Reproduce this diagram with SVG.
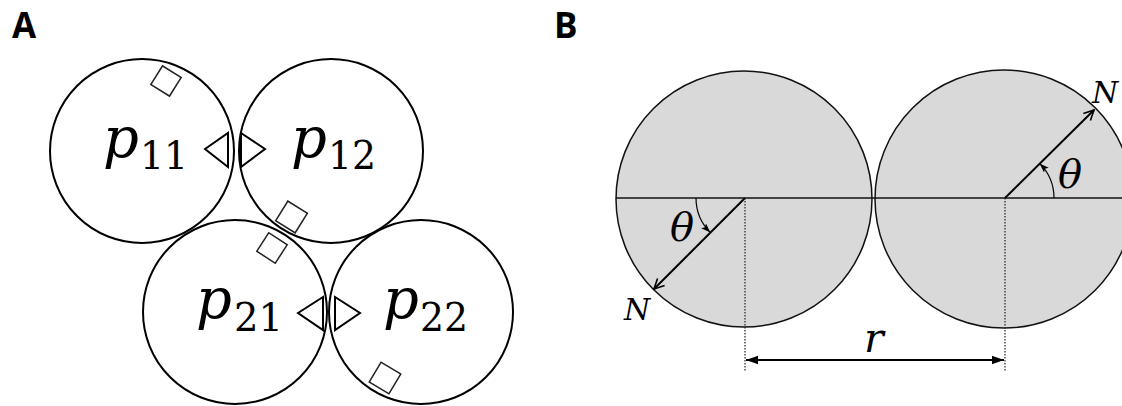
<svg xmlns="http://www.w3.org/2000/svg" width="1122" height="406" viewBox="0 0 1122 406">
<style>
.lbl{font-family:"Open Sans","Liberation Sans",sans-serif;font-weight:700;font-size:35px;fill:#000}
.pc{fill:#fff;stroke:#000;stroke-width:2}
.sq{fill:none;stroke:#222;stroke-width:1.5}
.tri{fill:none;stroke:#000;stroke-width:2;stroke-linejoin:miter}
.mp{font-family:"DejaVu Serif","Liberation Serif",serif;font-style:italic;font-size:56px;fill:#000}
.ms{font-family:"DejaVu Serif","Liberation Serif",serif;font-size:40px;fill:#000}
.gc{fill:#d9d9d9;stroke:#111;stroke-width:1.5}
.mi{font-family:"DejaVu Serif","Liberation Serif",serif;font-style:italic;fill:#000}
.ax{stroke:#111;stroke-width:1.3;fill:none}
.dot{stroke:#222;stroke-width:1.2;stroke-dasharray:1.5 1.5;fill:none}
.vec{stroke:#000;stroke-width:2;fill:none}
.arc{stroke:#000;stroke-width:1.2;fill:none}
</style>
<defs>
<marker id="ah" viewBox="0 0 12 12" refX="11" refY="6" markerWidth="6" markerHeight="6" markerUnits="strokeWidth" orient="auto">
<path d="M1,1 L11,6 L1,11" fill="none" stroke="#000" stroke-width="1.6"/>
</marker>
<marker id="ahs" viewBox="0 0 10 10" refX="10" refY="5" markerWidth="8" markerHeight="8" markerUnits="strokeWidth" orient="auto">
<path d="M0,1.5 L10,5 L0,8.5 L2,5 Z" fill="#000"/>
</marker>
<marker id="ahr" viewBox="0 0 10 10" refX="10" refY="5" markerWidth="6" markerHeight="6" markerUnits="strokeWidth" orient="auto-start-reverse">
<path d="M0,1.5 L10,5 L0,8.5 Z" fill="#000"/>
</marker>
</defs>

<text class="lbl" x="12" y="38">A</text>
<text class="lbl" x="554" y="38">B</text>

<g id="p11">
<circle class="pc" cx="142" cy="151" r="92"/>
<text class="mp" x="103" y="157">p</text>
<text class="ms" x="140" y="169" textLength="48" lengthAdjust="spacingAndGlyphs">11</text>
<rect class="sq" x="-11" y="-11" width="22" height="22" transform="translate(166,81) rotate(32)"/>
<polygon class="tri" points="205,149 228,133 228,167"/>
</g>
<g id="p12">
<circle class="pc" cx="331" cy="151" r="92"/>
<text class="mp" x="291" y="157">p</text>
<text class="ms" x="328" y="169" textLength="48" lengthAdjust="spacingAndGlyphs">12</text>
<rect class="sq" x="-11.5" y="-11.5" width="23" height="23" transform="translate(291.5,217) rotate(32)"/>
<polygon class="tri" points="241,133 241,167 265,149"/>
</g>
<g id="p21">
<circle class="pc" cx="235" cy="312" r="92"/>
<text class="mp" x="196" y="318">p</text>
<text class="ms" x="234" y="331" textLength="49" lengthAdjust="spacingAndGlyphs">21</text>
<rect class="sq" x="-11" y="-11" width="22" height="22" transform="translate(272,248) rotate(33)"/>
<polygon class="tri" points="298,313 323,297 323,330"/>
</g>
<g id="p22">
<circle class="pc" cx="421" cy="312" r="92"/>
<text class="mp" x="383" y="318">p</text>
<text class="ms" x="420" y="331" textLength="48" lengthAdjust="spacingAndGlyphs">22</text>
<rect class="sq" x="-11.5" y="-11.5" width="23" height="23" transform="translate(385,378) rotate(31)"/>
<polygon class="tri" points="335,297 335,330 360,313"/>
</g>

<g id="circleL">
<circle class="gc" cx="744" cy="199" r="128"/>
</g>
<g id="circleR">
<circle class="gc" cx="1004" cy="199" r="129"/>
</g>

<g id="connectors">
<line class="ax" x1="616" y1="198" x2="1122" y2="198"/>
<line class="dot" x1="745" y1="198" x2="745" y2="371"/>
<line class="dot" x1="1005" y1="198" x2="1005" y2="371"/>
<line class="vec" x1="745" y1="198" x2="654" y2="289" marker-end="url(#ah)"/>
<line class="vec" x1="1005" y1="198" x2="1094" y2="110" marker-end="url(#ah)"/>
<path class="arc" d="M696,198 A49,49 0 0 0 710.4,232.6" marker-end="url(#ahs)"/>
<path class="arc" d="M1054,198 A49,49 0 0 0 1039.6,163.4" marker-end="url(#ahs)"/>
<line class="vec" x1="746" y1="360" x2="1004" y2="360" marker-start="url(#ahr)" marker-end="url(#ahr)"/>
</g>

<g id="labels">
<text class="mi" x="670" y="241" font-size="40">θ</text>
<text class="mi" x="1058" y="188" font-size="40">θ</text>
<text class="mi" x="624" y="320" font-size="30">N</text>
<text class="mi" x="1092" y="103" font-size="30">N</text>
<text class="mi" x="864" y="352" font-size="41">r</text>
</g>
</svg>
